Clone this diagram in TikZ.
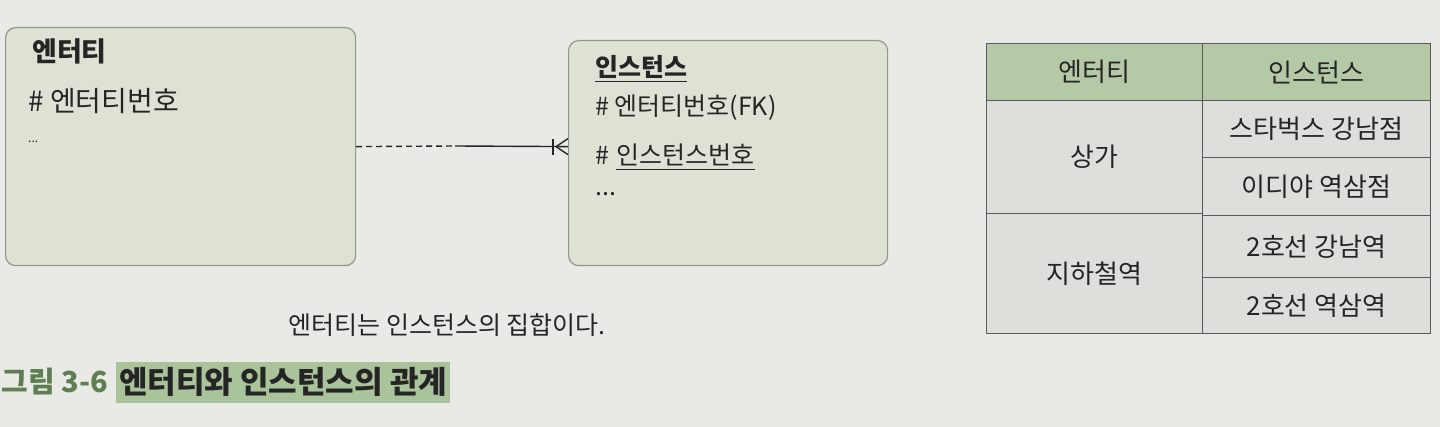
\documentclass[tikz,border=0pt]{standalone}
\usepackage{fontspec}
\setmainfont{Noto Sans CJK KR}
\begin{document}
\begin{tikzpicture}[x=1pt,y=-1pt,
  erbox/.style={draw=boxline, line width=1.2pt, fill=boxfill, rounded corners=10pt, inner sep=0pt},
  txt/.style={inner sep=0pt, anchor=west, text=ink, font=\fontsize{25}{29}\selectfont},
  ttl/.style={txt, font=\fontsize{25}{29}\selectfont\bfseries},
  hcell/.style={draw=tline, line width=1.1pt, fill=headfill, inner sep=0pt, anchor=north west, text=ink, font=\fontsize{26}{30}\selectfont},
  bcell/.style={draw=tline, line width=1.1pt, fill=bodyfill, inner sep=0pt, anchor=north west, text=ink, font=\fontsize{26}{30}\selectfont},
  conn/.style={draw=ink, line width=1.4pt}
]
\definecolor{paperc}{HTML}{E9E9E5}
\definecolor{boxfill}{HTML}{DDE2D4}
\definecolor{boxline}{HTML}{8F9A86}
\definecolor{ink}{HTML}{252525}
\definecolor{tline}{HTML}{5A5A58}
\definecolor{headfill}{HTML}{B6C9A6}
\definecolor{bodyfill}{HTML}{DEDFDA}
\definecolor{capgreen}{HTML}{5E7F52}
\definecolor{hilite}{HTML}{A9C39B}
\useasboundingbox (0,0) rectangle (1440,427);
\fill[paperc] (0,0) rectangle (1440,427);

% entity box
\node[erbox, minimum width=350pt, minimum height=238pt, anchor=north west] (ent) at (5,27) {};
\node[ttl, font=\fontsize{27}{31}\selectfont\bfseries] (et) at (32,51) {엔터티};
\node[txt, font=\fontsize{28}{32}\selectfont] (ea) at (28,101) {\#\ 엔터티번호};
\node[txt, font=\fontsize{12}{14}\selectfont] (ed) at (28,142) {...};

% instance box
\node[erbox, minimum width=319pt, minimum height=225pt, anchor=north west] (inst) at (568,40) {};
\node[ttl] (it) at (595,67) {인스턴스};
\node[txt] (ia) at (595,108) {\#\ 엔터티번호(FK)};
\node[txt] (ib) at (595,155) {\#};
\node[txt, anchor=west] (ic) at ([xshift=7pt]ib.east) {인스턴스번호};
\node[txt] (idd) at (595,194) {...};
\draw[ink, line width=1pt] ([yshift=-3pt]it.south west) -- ([yshift=-3pt]it.south east);
\draw[ink, line width=1pt] ([yshift=-3pt]ic.south west) -- ([yshift=-3pt]ic.south east);

% connector
\coordinate (m) at (455,146);
\coordinate (bar) at ([xshift=-15pt]inst.west |- ent.east);
\coordinate (fk) at ([xshift=-12pt]inst.west |- ent.east);
\draw[conn, dash pattern=on 6pt off 4pt] (ent.east) -- (m);
\draw[conn] (m) -- (inst.west |- ent.east);
\draw[conn] ([yshift=-8pt]bar) -- ([yshift=8pt]bar);
\draw[conn] (fk) -- ([yshift=-8pt]inst.west |- ent.east);
\draw[conn] (fk) -- ([yshift=8pt]inst.west |- ent.east);

% table
\node[hcell, minimum width=216pt, minimum height=57pt] (h1) at (986,43) {엔터티};
\node[hcell, minimum width=228pt, minimum height=57pt] (h2) at (1202,43) {인스턴스};
\node[bcell, minimum width=216pt, minimum height=113pt] (b1) at (986,100) {상가};
\node[bcell, minimum width=216pt, minimum height=120pt] (b2) at (986,213) {지하철역};
\node[bcell, minimum width=228pt, minimum height=57pt] (r1) at (1202,100) {스타벅스 강남점};
\node[bcell, minimum width=228pt, minimum height=58pt] (r2) at (1202,157) {이디야 역삼점};
\node[bcell, minimum width=228pt, minimum height=62pt] (r3) at (1202,215) {2호선 강남역};
\node[bcell, minimum width=228pt, minimum height=56pt] (r4) at (1202,277) {2호선 역삼역};

% captions
\node[txt, anchor=center, font=\fontsize{25}{29}\selectfont] (cap) at (447,325) {엔터티는 인스턴스의 집합이다.};
\fill[hilite] (116,362) rectangle (450,403);
\node[txt, anchor=east, text=capgreen, font=\fontsize{29}{33}\selectfont\bfseries] (fig) at (108,382) {그림 3-6};
\node[txt, anchor=west, font=\fontsize{31}{35}\selectfont\bfseries] (figt) at (119,382) {엔터티와 인스턴스의 관계};
\end{tikzpicture}
\end{document}
